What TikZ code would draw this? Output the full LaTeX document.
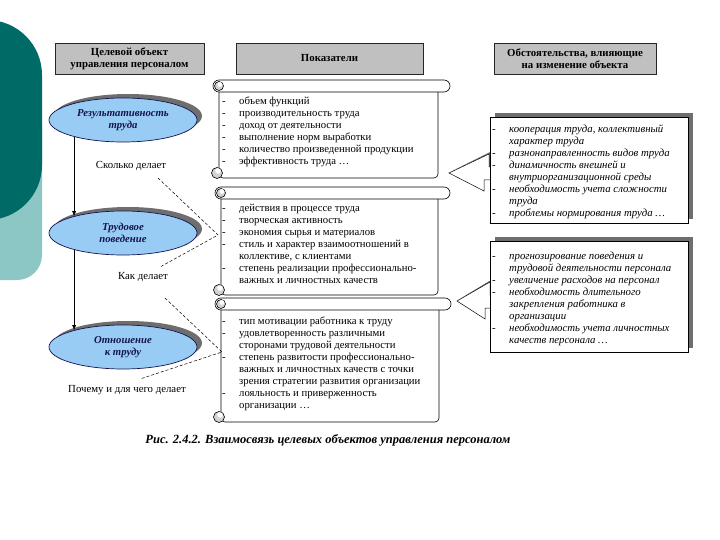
\documentclass[tikz,border=0pt]{standalone}
\usepackage{fontspec}
\setmainfont{Liberation Serif}
\usetikzlibrary{shapes.geometric,arrows.meta}
\definecolor{teald}{HTML}{006A67}
\definecolor{teall}{HTML}{8CC7C5}
\definecolor{hdrgray}{HTML}{C0C0C0}
\definecolor{ellblue}{HTML}{99CCF5}
\definecolor{navy}{HTML}{141450}
\definecolor{shadowg}{HTML}{6E6E6E}
\newcommand\drawscroll[4]{%
  \draw[scrl, rounded corners=4] (#1+6,#2+6) rectangle (#3-12,#4);
  \draw[scrl, rounded corners=6] (#1,#2) rectangle (#3,#2+12);
  \draw[scrl, fill=gray!35] (#1+6,#2+6) circle (4.5);
  \fill[white] (#1+7,#2+4.5) circle (2.4);
  \draw[scrl, fill=gray!35] (#1+4,#4-5) circle (5.5);
  \fill[white] (#1+5,#4-7) circle (2.8);
}
\newcommand\hollowarrow[3]{%
  \fill[shadowg] (#1+1,#2-1) -- (#3+1,#2-21) -- (#3+4,#2-21) -- (#3+4,#2-3) -- (#3,#2-3) -- (#3,#2-19) -- cycle;
  \draw[fill=white, line width=0.5pt] (#1,#2) -- (#3,#2-19) -- (#3,#2-6) -- (#3+10,#2-6) -- (#3+10,#2+7) -- (#3-5,#2+7) -- (#3-5,#2+18) -- cycle;
}
\begin{document}
\begin{tikzpicture}[x=1pt,y=-1pt,
  scrl/.style={draw=black, line width=0.6pt, fill=white},
  hdr/.style={draw=black!85, line width=0.8pt, fill=hdrgray, minimum width=#1, minimum height=31pt, inner sep=1pt, align=center, font=\fontsize{10.8}{12}\selectfont\bfseries},
  ell/.style={ellipse, minimum width=148pt, minimum height=44pt, inner sep=0pt, fill=ellblue, draw=navy, line width=0.7pt, text=navy, align=center, font=\fontsize{10.7}{12}\selectfont\bfseries\itshape},
  ellshadow/.style={ellipse, minimum width=148pt, minimum height=44pt, inner sep=0pt, fill=shadowg, draw=none},
  rbox/.style={draw=black, line width=0.6pt, fill=white, minimum width=198pt, minimum height=#1, inner sep=0pt},
  rshadow/.style={fill=shadowg, draw=none, minimum width=198pt, minimum height=#1, inner sep=0pt},
  lst/.style={anchor=west, inner sep=0pt, align=left, font=\fontsize{10.7}{12}\selectfont},
  ilst/.style={anchor=west, inner sep=0pt, align=left, font=\fontsize{10.8}{12}\selectfont\itshape},
  lbl/.style={inner sep=0pt, font=\fontsize{10.8}{12}\selectfont},
  wedge/.style={draw=black, line width=0.5pt, densely dashed},
  varrow/.style={draw=black, line width=0.6pt, -{Latex[length=5pt,width=4pt]}}
]
\useasboundingbox (0,0) rectangle (720,540);
% left decoration
\begin{scope}
  \clip (0,0) rectangle (42.5,540);
  \fill[teall, rounded corners=25] (-100,100) rectangle (42,280);
  \fill[teald, rounded corners=55] (-100,20) rectangle (42,220);
\end{scope}
% headers
\node[hdr=149pt] (h1) at (129.5,58.5) {Целевой объект\\управления персоналом};
\node[hdr=187pt] (h2) at (329.5,58.5) {Показатели};
\node[hdr=162pt] (h3) at (575,58.5) {Обстоятельства, влияющие\\на изменение объекта};
% ellipses
\node[ellshadow] (e1s) at (128,116) {};
\node[ell] (e1) at (123,120) {Результативность\\труда};
\node[ellshadow] (e2s) at (128,229) {};
\node[ell] (e2) at (123,233) {Трудовое\\поведение};
\node[ellshadow] (e3s) at (128,343) {};
\node[ell] (e3) at (123,347) {Отношение\\к труду};
\draw[varrow] (e1.199) -- (e2.161);
\draw[varrow] (e2.199) -- (e3.161);
% labels
\node[lbl] (l1) at (131,166) {Сколько делает};
\node[lbl] (l2) at (143,277) {Как делает};
\node[lbl] (l3) at (127,390) {Почему и для чего делает};
% scrolls
\drawscroll{213}{80}{450}{178}
\drawscroll{215}{187}{450}{295}
\drawscroll{215}{298}{451}{422}
\node[lst] (s1) at (222,132) {\begin{tabular}{@{}p{17pt}@{}l@{}}
-&объем функций\\
-&производительность труда\\
-&доход от деятельности\\
-&выполнение норм выработки\\
-&количество произведенной продукции\\
-&эффективность труда \dots
\end{tabular}};
\node[lst] (s2) at (222,245) {\begin{tabular}{@{}p{17pt}@{}l@{}}
-&действия в процессе труда\\
-&творческая активность\\
-&экономия сырья и материалов\\
-&стиль и характер взаимоотношений в\\
&коллективе, с клиентами\\
-&степень реализации профессионально-\\
&важных и личностных качеств
\end{tabular}};
\node[lst] (s3) at (222,364) {\begin{tabular}{@{}p{17pt}@{}l@{}}
-&тип мотивации работника к труду\\
-&удовлетворенность различными\\
&сторонами трудовой деятельности\\
-&степень развитости профессионально-\\
&важных и личностных качеств с точки\\
&зрения стратегии развития организации\\
-&лояльность и приверженность\\
&организации \dots
\end{tabular}};
% wedges
\coordinate (w1a) at (158,178);
\coordinate (w1t) at (218,235);
\coordinate (w1b) at (160,267);
\coordinate (w2a) at (165,298);
\coordinate (w2t) at (222,352);
\coordinate (w2b) at (140,379);
\draw[wedge] (w1a) -- (w1t) -- (w1b);
\draw[wedge] (w2a) -- (w2t) -- (w2b);
% hollow arrows
\hollowarrow{449}{173}{489}
\hollowarrow{457}{301}{490}
% right boxes
\node[rshadow=106pt] (bas) at (594,166) {};
\node[rbox=106pt] (ba) at (589,170) {};
\node[rshadow=111pt] (bbs) at (594,292.5) {};
\node[rbox=111pt] (bb) at (589,296.5) {};
\node[ilst] (ta) at (492,172) {\begin{tabular}{@{}p{17pt}@{}l@{}}
-&кооперация труда, коллективный\\
&характер труда\\
-&разнонаправленность видов труда\\
-&динамичность внешней и\\
&внутриорганизационной среды\\
-&необходимость учета сложности\\
&труда\\
-&проблемы нормирования труда \dots
\end{tabular}};
\node[ilst] (tb) at (492,299) {\begin{tabular}{@{}p{17pt}@{}l@{}}
-&прогнозирование поведения и\\
&трудовой деятельности персонала\\
-&увеличение расходов на персонал\\
-&необходимость длительного\\
&закрепления работника в\\
&организации\\
-&необходимость учета личностных\\
&качеств персонала \dots
\end{tabular}};
% caption
\node[inner sep=0pt, font=\fontsize{12.5}{14}\selectfont\bfseries\itshape] (cap) at (328,440) {Рис. 2.4.2. Взаимосвязь целевых объектов управления персоналом};
\end{tikzpicture}
\end{document}
